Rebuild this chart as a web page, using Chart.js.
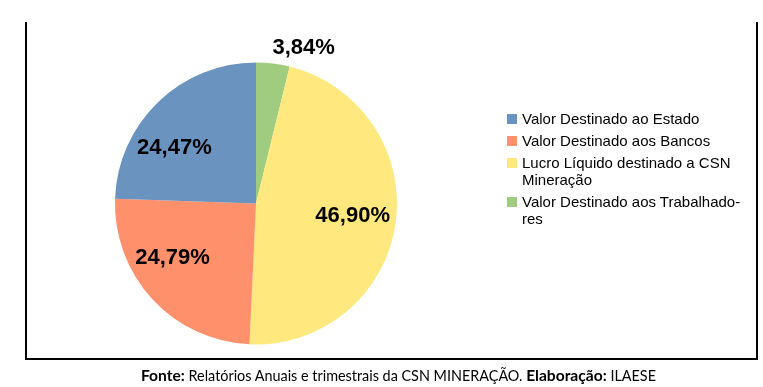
<!DOCTYPE html>
<html>
<head>
<meta charset="utf-8">
<script src="https://cdn.jsdelivr.net/npm/chart.js@4"></script>
<style>
  html, body { margin: 0; padding: 0; background: #fff; }
  #wrap { position: relative; width: 763px; height: 387px; overflow: hidden; }
  #frame { position: absolute; left: 25px; top: 22px; width: 729px; height: 336px;
           border-left: 2px solid #000; border-right: 2px solid #000; border-bottom: 2px solid #000; }
  #chart { position: absolute; left: 0; top: 0; }
  #legend { position: absolute; left: 507px; top: 110px; font-family: "Liberation Sans", Arial, sans-serif;
            font-size: 15px; color: #000; line-height: 17px; }
  #legend .item { position: relative; padding-left: 15px; margin-bottom: 5px; width: 225px; }
  #legend .box { position: absolute; left: 0; top: 4px; width: 10px; height: 10px; }
  #footer { position: absolute; left: 17px; width: 763px; top: 366px; text-align: center;
            font-family: Lato, "Open Sans", sans-serif; font-size: 14.4px; color: #000; }
  #footer b { font-weight: 700; font-size: 15.6px; }
</style>
</head>
<body>
<div id="wrap">
  <div id="frame"></div>
  <canvas id="chart" width="763" height="387"></canvas>
  <div id="legend"></div>
  <div id="footer"><b>Fonte:</b> Relatórios Anuais e trimestrais da CSN MINERAÇÃO. <b>Elaboração:</b> ILAESE</div>
</div>
<script>
// legend order
const categorias = [
  'Valor Destinado ao Estado',
  'Valor Destinado aos Bancos',
  'Lucro Líquido destinado a CSN Mineração',
  'Valor Destinado aos Trabalhadores'
];
const legendaLinhas = [
  ['Valor Destinado ao Estado'],
  ['Valor Destinado aos Bancos'],
  ['Lucro Líquido destinado a CSN', 'Mineração'],
  ['Valor Destinado aos Trabalhado-', 'res']
];
const percentuais = [24.47, 24.79, 46.90, 3.84];
const cores = ['#6a93bf', '#ff906c', '#ffe97f', '#9fcc7f'];

// the original pie runs counter-clockwise, so feed it reversed
const ordem = [3, 2, 1, 0];
const fmt = v => v.toFixed(2).replace('.', ',') + '%';

// small nudges (px) to match where the labels sit in the source
const nudge = [[-13, 15], [-11, -13], [-1, -2], [28, 6]];

const labelPlugin = {
  id: 'pctLabels',
  afterDatasetsDraw(chart) {
    const ctx = chart.ctx;
    const meta = chart.getDatasetMeta(0);
    ctx.save();
    ctx.font = 'bold 22px "Liberation Sans", Arial, sans-serif';
    ctx.fillStyle = '#000';
    ctx.textAlign = 'center';
    ctx.textBaseline = 'middle';
    meta.data.forEach((arc, i) => {
      const k = ordem[i];
      const mid = (arc.startAngle + arc.endAngle) / 2;
      const small = percentuais[k] < 5;
      const r = small ? arc.outerRadius + 22 : arc.outerRadius * 0.7;
      const x = arc.x + Math.cos(mid) * r + nudge[k][0];
      const y = arc.y + Math.sin(mid) * r + nudge[k][1];
      ctx.fillText(fmt(percentuais[k]), x, y);
    });
    ctx.restore();
  }
};

new Chart(document.getElementById('chart'), {
  type: 'pie',
  data: {
    labels: ordem.map(i => categorias[i]),
    datasets: [{
      data: ordem.map(i => percentuais[i]),
      backgroundColor: ordem.map(i => cores[i]),
      borderWidth: 0
    }]
  },
  options: {
    responsive: false,
    animation: false,
    layout: { padding: { left: 115, top: 62.5, right: 366, bottom: 42.5 } },
    plugins: {
      legend: { display: false },
      tooltip: { enabled: false }
    }
  },
  plugins: [labelPlugin]
});

// legend in the original order
const leg = document.getElementById('legend');
categorias.forEach((c, i) => {
  const d = document.createElement('div');
  d.className = 'item';
  d.innerHTML = '<span class="box" style="background:' + cores[i] + '"></span>' + legendaLinhas[i].join('<br>');
  leg.appendChild(d);
});
</script>
</body>
</html>
